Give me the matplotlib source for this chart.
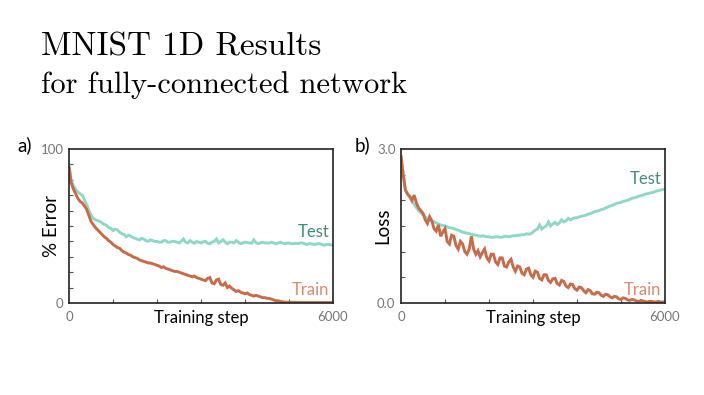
import numpy as np
import matplotlib
matplotlib.use("Agg")
import matplotlib.pyplot as plt

# Training steps (x axis, every 50 steps)
steps = np.arange(0, 6001, 50)

# a) % error
err_test = [90, 80, 76, 74, 72, 71, 70, 67, 64, 60,
            57, 55, 54, 53.5, 53, 52, 51, 50.5, 49, 48.5,
            47, 48, 47.5, 46, 45, 44.5, 43, 44, 43.5, 42.5,
            42, 41.5, 41, 42, 41.5, 40.5, 40, 41, 40.5, 40,
            40, 39.5, 39.5, 40.5, 40.5, 39.5, 39.5, 40, 40, 39.5,
            39, 40, 41.5, 39.5, 39, 40.5, 39.5, 38.8, 40, 39.5,
            39, 39.8, 40, 38.8, 38.5, 39.5, 40, 41.5, 39, 40,
            41, 39.5, 38.5, 39.5, 39.5, 39, 40.5, 39.5, 38.5, 39,
            39.5, 39.2, 39, 38.8, 41, 39.2, 38.5, 39, 39.5, 39,
            39, 38.8, 39.5, 39, 38.5, 38.8, 39.5, 39, 38.5, 38.8,
            39, 38.5, 38.5, 38.8, 38.5, 39, 39, 38.5, 38, 38.5,
            38.5, 38.2, 38, 38.5, 38.5, 38, 37.5, 38, 38, 37.8,
            37.5]
err_train = [88, 78, 74, 71, 68, 66, 65, 63, 61, 57,
             53, 51, 49, 47.5, 46, 44.5, 43, 42, 40.5, 39.5,
             38, 37, 36, 35.5, 34, 33, 32.5, 31.5, 31, 30,
             29.5, 29, 28, 27.5, 27, 26.5, 26, 26, 25.5, 25,
             24.5, 24, 23, 23.5, 22.5, 22, 21.5, 21, 20.5, 20.5,
             20, 19.5, 19, 18.5, 18, 17.5, 17, 17.5, 16.5, 16,
             15.5, 15, 14.5, 16, 16.5, 13, 12.5, 15, 15.5, 12,
             11.5, 13, 10, 11, 9.5, 8.5, 7.5, 8, 7, 6.5,
             6, 6.5, 5.5, 5, 4.5, 5, 4.5, 4, 3.5, 3.5,
             3, 3, 2.5, 2, 1.5, 1.5, 1, 0.8, 0.5, 0.5,
             0.5, 0.4, 0.4, 0.4, 0.3, 0.3, 0.3, 0.3, 0.3, 0.3,
             0.3, 0.3, 0.3, 0.3, 0.3, 0.3, 0.3, 0.3, 0.3, 0.3,
             0.3]

# b) loss
loss_test = [2.85, 2.5, 2.2, 2.12, 2.05, 1.98, 1.92, 1.86, 1.8, 1.76,
             1.72, 1.68, 1.64, 1.62, 1.6, 1.58, 1.56, 1.54, 1.52, 1.51,
             1.5, 1.48, 1.47, 1.46, 1.45, 1.43, 1.42, 1.4, 1.38, 1.37,
             1.36, 1.35, 1.34, 1.33, 1.32, 1.31, 1.3, 1.31, 1.3, 1.29,
             1.29, 1.28, 1.28, 1.29, 1.29, 1.28, 1.28, 1.3, 1.3, 1.29,
             1.3, 1.31, 1.31, 1.32, 1.32, 1.33, 1.33, 1.35, 1.34, 1.35,
             1.38, 1.42, 1.44, 1.52, 1.44, 1.48, 1.5, 1.58, 1.5, 1.54,
             1.57, 1.53, 1.56, 1.62, 1.58, 1.6, 1.65, 1.62, 1.64, 1.66,
             1.66, 1.68, 1.69, 1.7, 1.71, 1.73, 1.74, 1.76, 1.78, 1.79,
             1.8, 1.82, 1.83, 1.85, 1.87, 1.89, 1.9, 1.92, 1.94, 1.95,
             1.96, 1.98, 1.99, 2.0, 2.02, 2.04, 2.05, 2.06, 2.08, 2.09,
             2.1, 2.12, 2.13, 2.14, 2.15, 2.16, 2.18, 2.19, 2.2, 2.21,
             2.22]
loss_train = [2.85, 2.5, 2.2, 2.12, 2.08, 2.0, 2.1, 1.95, 1.85, 1.8,
              1.75, 1.62, 1.55, 1.68, 1.6, 1.45, 1.4, 1.52, 1.3, 1.38,
              1.45, 1.2, 1.15, 1.32, 1.3, 1.12, 1.05, 1.2, 1.15, 1.0,
              0.95, 1.05, 1.3, 1.05, 0.95, 1.02, 0.9, 0.98, 1.05, 0.88,
              0.82, 0.95, 0.95, 0.8, 0.75, 0.88, 0.88, 0.72, 0.7, 0.8,
              0.85, 0.7, 0.62, 0.72, 0.7, 0.58, 0.55, 0.66, 0.68, 0.55,
              0.5, 0.62, 0.6, 0.48, 0.45, 0.55, 0.55, 0.44, 0.4, 0.47,
              0.48, 0.38, 0.35, 0.44, 0.42, 0.33, 0.3, 0.37, 0.36, 0.28,
              0.25, 0.31, 0.3, 0.24, 0.2, 0.26, 0.24, 0.18, 0.17, 0.21,
              0.2, 0.15, 0.13, 0.17, 0.16, 0.12, 0.1, 0.13, 0.12, 0.08,
              0.07, 0.1, 0.09, 0.06, 0.05, 0.07, 0.06, 0.04, 0.03, 0.05,
              0.04, 0.03, 0.02, 0.03, 0.03, 0.02, 0.02, 0.03, 0.02, 0.02,
              0.02]

TEST_LINE = '#8dd9c6'
TEST_TEXT = '#3f8f7c'
TRAIN_LINE = '#c96a48'
TRAIN_TEXT = '#dc8a6e'
SANS = ['Lato', 'DejaVu Sans']

fig = plt.figure(figsize=(7.04, 3.95), dpi=100)

# Title (computer-modern look)
fig.text(41 / 704, 1 - 55 / 395, 'MNIST 1D Results', fontfamily='cmr10',
         fontsize=24, ha='left', va='baseline')
fig.text(41 / 704, 1 - 93 / 395, 'for fully-connected network', fontfamily='cmr10',
         fontsize=22, ha='left', va='baseline')


def setup_axes(ax, ymax, ylabels, ystep, ylabel):
    ax.set_xlim(0, 6000)
    ax.set_ylim(0, ymax)
    for s in ax.spines.values():
        s.set_color('#222222')
        s.set_linewidth(1.2)
    ax.set_xticks([0, 6000])
    ax.set_xticklabels(['0', '6000'])
    ax.set_yticks([0, ymax])
    ax.set_yticklabels(ylabels)
    ax.set_xticks(np.arange(1000, 6000, 1000), minor=True)
    ax.set_yticks(np.arange(ystep, ymax, ystep), minor=True)
    ax.tick_params(which='major', length=0, labelsize=9.5, labelcolor='#777777')
    ax.tick_params(axis='x', which='major', pad=6)
    ax.tick_params(axis='y', which='major', pad=4)
    ax.tick_params(which='minor', direction='in', length=3, color='#555555', width=0.8)
    for lab in ax.get_xticklabels() + ax.get_yticklabels():
        lab.set_fontfamily(SANS)
    ax.text(0.5, -0.097, 'Training step', transform=ax.transAxes, ha='center',
            va='center', fontsize=12, fontfamily=SANS)
    ax.text(-0.068, 0.5, ylabel, transform=ax.transAxes, ha='center',
            va='center', rotation=90, fontsize=13.5, fontfamily=SANS)


line_kw = dict(lw=2.1, solid_joinstyle='miter')

# a) % Error
ax1 = fig.add_axes([69 / 704, 1 - 303 / 395, 264 / 704, 154 / 395])
ax1.plot(steps, err_test, color=TEST_LINE, **line_kw)
ax1.plot(steps, err_train, color=TRAIN_LINE, **line_kw)
setup_axes(ax1, 100, ['0', '100'], 10, '% Error')
ax1.text(0.985, 0.41, 'Test', transform=ax1.transAxes, ha='right', va='bottom',
         color=TEST_TEXT, fontsize=12, fontfamily=SANS)
ax1.text(0.985, 0.03, 'Train', transform=ax1.transAxes, ha='right', va='bottom',
         color=TRAIN_TEXT, fontsize=12, fontfamily=SANS)
fig.text(17 / 704, 1 - 145 / 395, 'a)', fontsize=13.5, fontfamily=SANS, va='center')

# b) Loss
ax2 = fig.add_axes([401 / 704, 1 - 303 / 395, 264 / 704, 154 / 395])
ax2.plot(steps, loss_test, color=TEST_LINE, **line_kw)
ax2.plot(steps, loss_train, color=TRAIN_LINE, **line_kw)
setup_axes(ax2, 3.0, ['0.0', '3.0'], 0.5, 'Loss')
ax2.text(0.985, 0.75, 'Test', transform=ax2.transAxes, ha='right', va='bottom',
         color=TEST_TEXT, fontsize=12, fontfamily=SANS)
ax2.text(0.985, 0.03, 'Train', transform=ax2.transAxes, ha='right', va='bottom',
         color=TRAIN_TEXT, fontsize=12, fontfamily=SANS)
fig.text(355 / 704, 1 - 145 / 395, 'b)', fontsize=13.5, fontfamily=SANS, va='center')

fig.savefig('out.png', dpi=100)
